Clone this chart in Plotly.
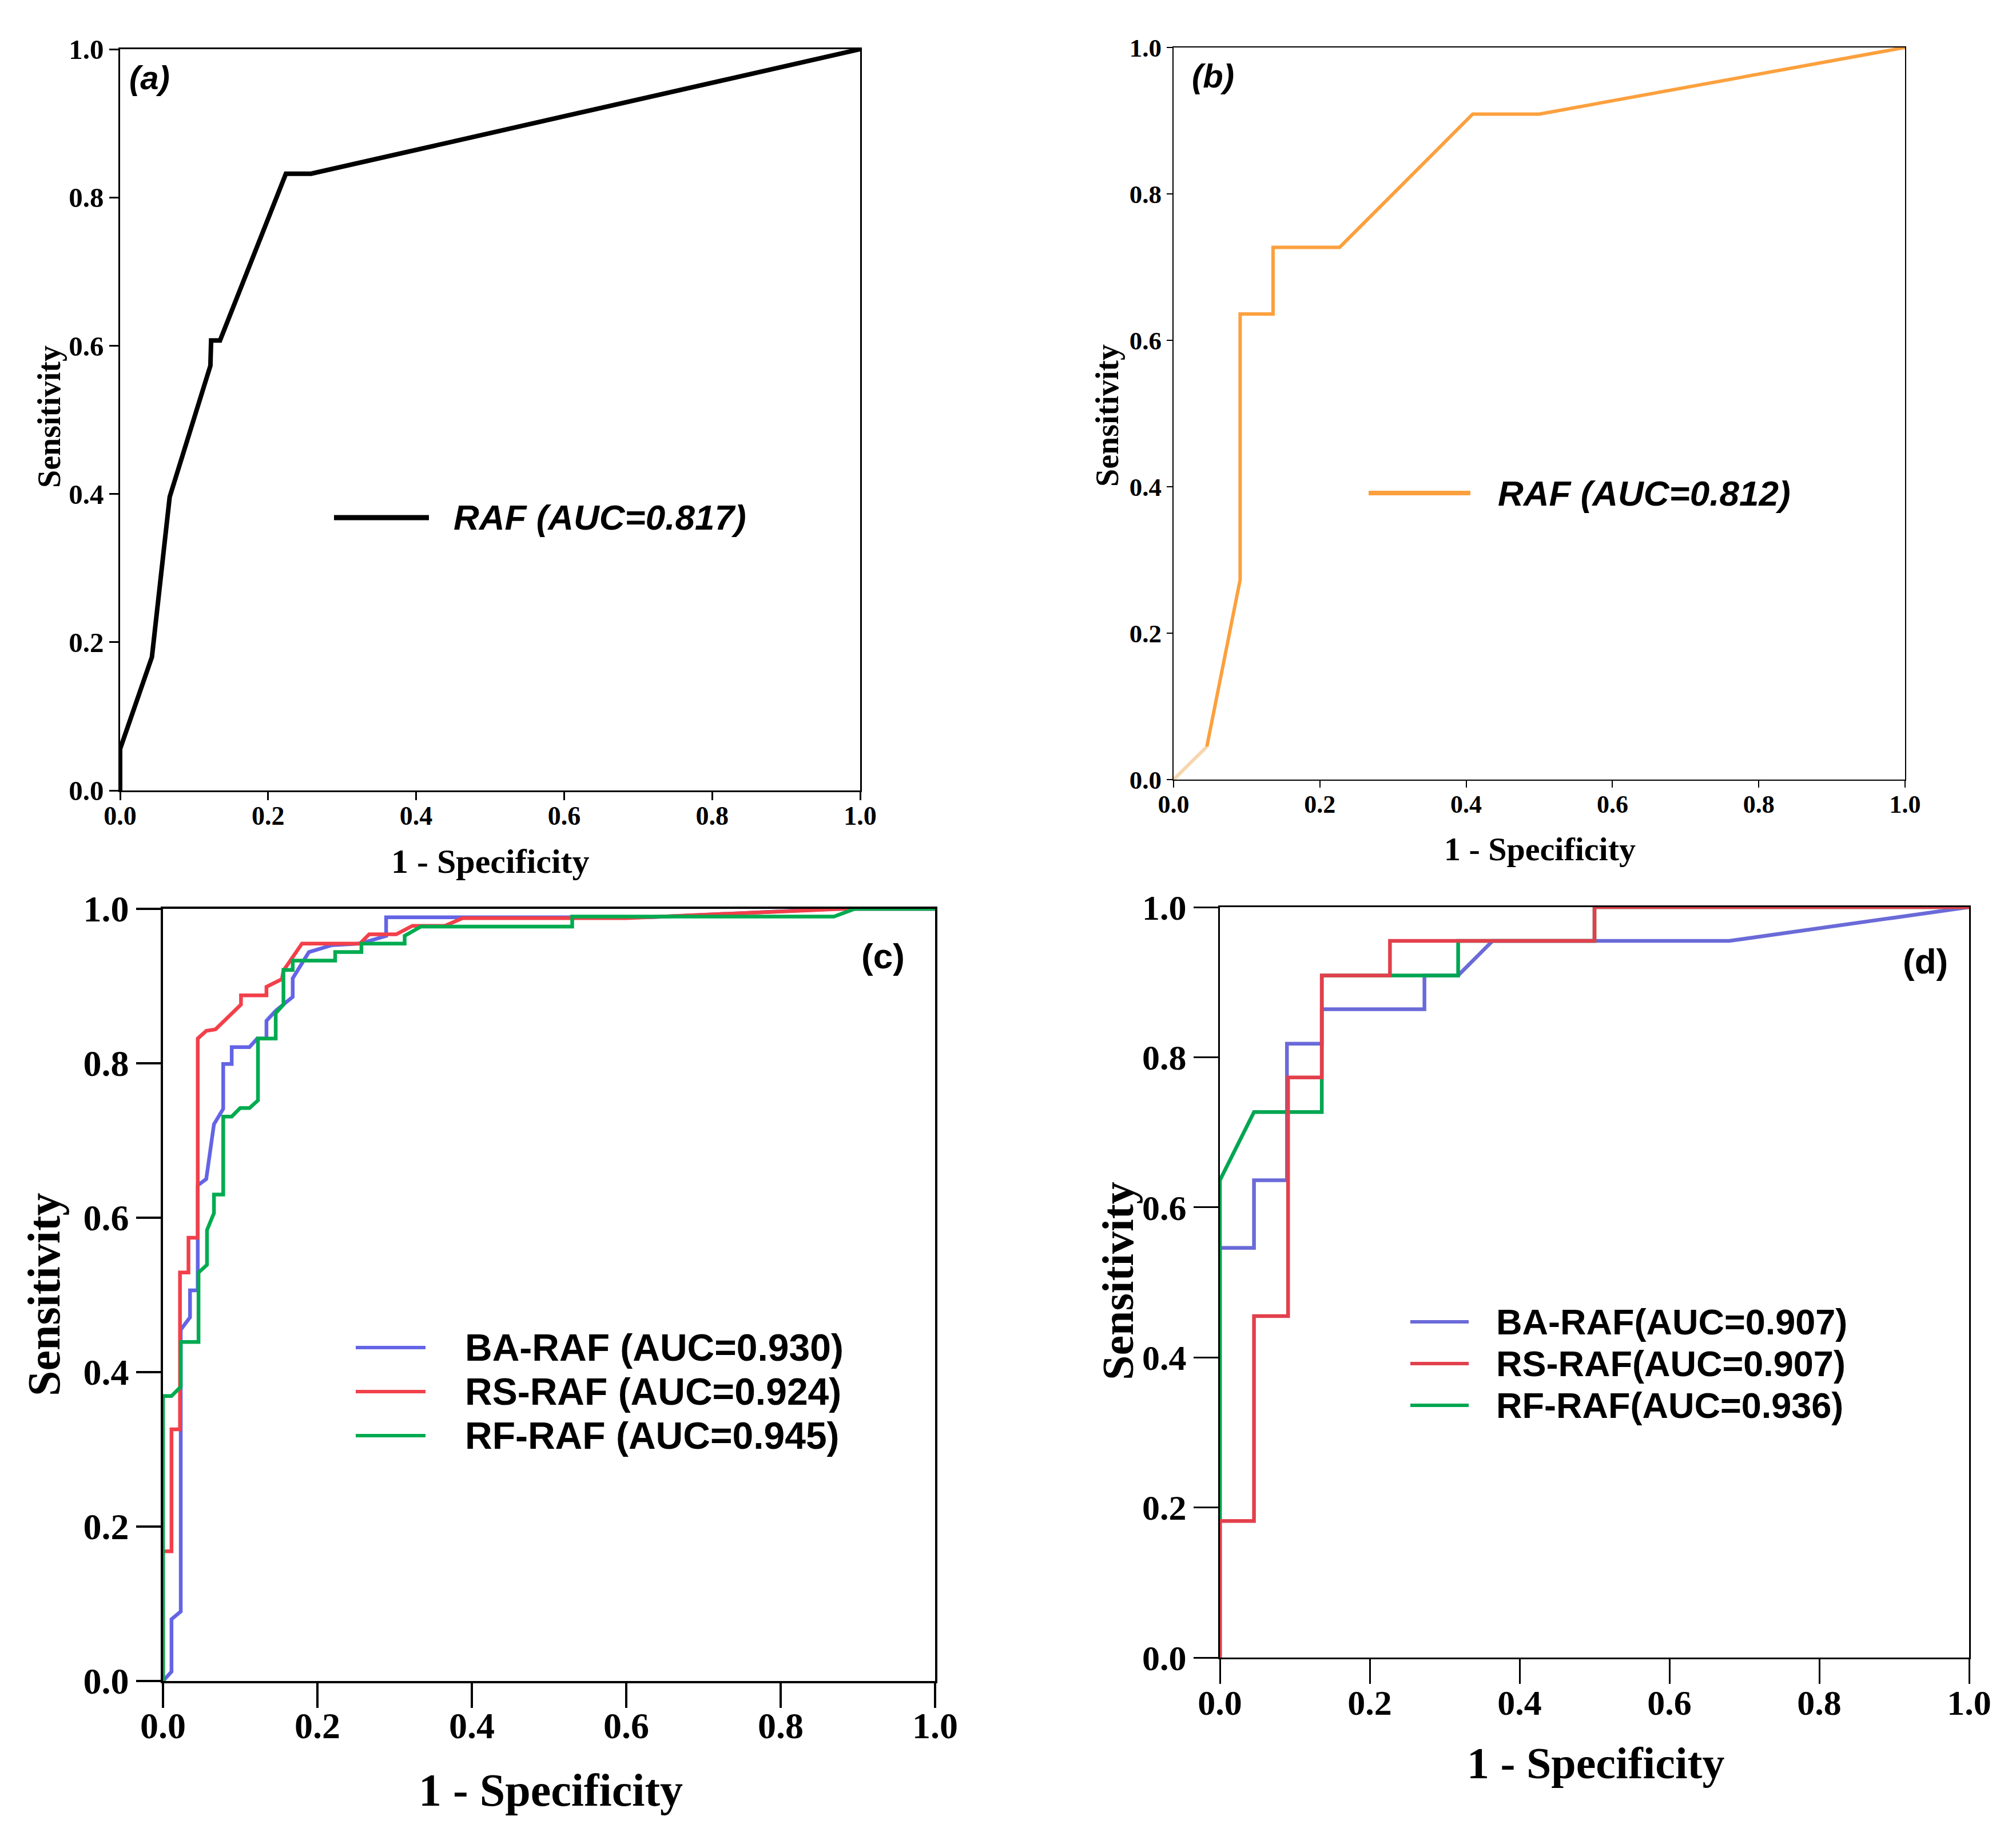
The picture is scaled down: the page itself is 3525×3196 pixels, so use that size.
import plotly.graph_objects as go

W, H = 3525, 3196

# ---------------------------------------------------------------------------
# ROC curve points  (x = 1 - specificity, y = sensitivity)
# ---------------------------------------------------------------------------
a_x = [0, 0, 0.043, 0.065, 0.067, 0.122, 0.123, 0.135, 0.224, 0.258, 1]
a_y = [0, 0.056, 0.18, 0.369, 0.396, 0.573, 0.607, 0.607, 0.832, 0.832, 1]

b_x = [0, 0.0455, 0.091, 0.091, 0.136, 0.136, 0.227, 0.409, 0.5, 1]
b_y = [0, 0.045, 0.273, 0.636, 0.636, 0.727, 0.727, 0.909, 0.909, 1]

c_ba_x = [0, 0.011, 0.011, 0.023, 0.023, 0.035, 0.035, 0.045, 0.045, 0.056,
          0.066, 0.078, 0.078, 0.089, 0.089, 0.112, 0.122, 0.134, 0.134, 0.146,
          0.168, 0.168, 0.189, 0.219, 0.255, 0.289, 0.289, 0.63, 0.87, 1]
c_ba_y = [0, 0.012, 0.08, 0.09, 0.455, 0.471, 0.506, 0.506, 0.642, 0.65,
          0.721, 0.741, 0.799, 0.799, 0.821, 0.821, 0.832, 0.832, 0.855, 0.868,
          0.886, 0.91, 0.944, 0.953, 0.955, 0.965, 0.989, 0.989, 1.0, 1]

c_rs_x = [0, 0, 0.011, 0.011, 0.022, 0.022, 0.033, 0.033, 0.045, 0.045,
          0.056, 0.068, 0.101, 0.101, 0.134, 0.134, 0.154, 0.156, 0.18, 0.255,
          0.267, 0.302, 0.323, 0.365, 0.388, 0.6, 0.88, 1]
c_rs_y = [0, 0.168, 0.168, 0.326, 0.326, 0.529, 0.529, 0.574, 0.574, 0.832,
          0.842, 0.844, 0.876, 0.888, 0.888, 0.899, 0.909, 0.92, 0.955, 0.955,
          0.967, 0.967, 0.978, 0.978, 0.988, 0.988, 1.0, 1]

c_rf_x = [0, 0, 0.011, 0.023, 0.023, 0.046, 0.046, 0.057, 0.057, 0.066,
          0.066, 0.078, 0.078, 0.089, 0.1, 0.112, 0.123, 0.123, 0.146, 0.146,
          0.156, 0.156, 0.168, 0.168, 0.223, 0.223, 0.257, 0.257, 0.313, 0.313,
          0.334, 0.53, 0.53, 0.869, 0.896, 1]
c_rf_y = [0, 0.369, 0.369, 0.381, 0.439, 0.439, 0.529, 0.539, 0.584, 0.606,
          0.63, 0.63, 0.731, 0.731, 0.742, 0.742, 0.752, 0.832, 0.832, 0.865,
          0.876, 0.921, 0.921, 0.933, 0.933, 0.944, 0.944, 0.955, 0.955, 0.965,
          0.977, 0.977, 0.99, 0.99, 1.0, 1]

d_ba_x = [0, 0, 0.0455, 0.0455, 0.0895, 0.0895, 0.136, 0.136, 0.273, 0.273,
          0.318, 0.364, 0.68, 1]
d_ba_y = [0, 0.546, 0.546, 0.636, 0.636, 0.818, 0.818, 0.864, 0.864, 0.909,
          0.909, 0.955, 0.955, 1]

d_rs_x = [0, 0, 0.0455, 0.0455, 0.091, 0.091, 0.136, 0.136, 0.227, 0.227,
          0.5, 0.5, 1]
d_rs_y = [0, 0.182, 0.182, 0.455, 0.455, 0.773, 0.773, 0.909, 0.909, 0.955,
          0.955, 1, 1]

d_rf_x = [0, 0, 0.0455, 0.136, 0.136, 0.318, 0.318, 0.5, 0.5, 1]
d_rf_y = [0, 0.636, 0.727, 0.727, 0.909, 0.909, 0.955, 0.955, 1, 1]

ticks = [0.0, 0.2, 0.4, 0.6, 0.8, 1.0]
tick_text = ["0.0", "0.2", "0.4", "0.6", "0.8", "1.0"]

c_names = ["BA-RAF (AUC=0.930)", "RS-RAF (AUC=0.924)", "RF-RAF (AUC=0.945)"]
d_names = ["BA-RAF(AUC=0.907)", "RS-RAF(AUC=0.907)", "RF-RAF(AUC=0.936)"]

BLUE, RED, GREEN = "#6464e6", "#f2404a", "#00ab50"
D_BLUE, D_RED, D_GREEN = "#6a6ad8", "#e2404c", "#00a651"
ORANGE, PALE_ORANGE = "#fca03e", "#f7d6ae"

SERIF = "Liberation Serif"
SANS = "Liberation Sans"


def px(x):
    return x / W


def py(y):
    return 1 - y / H


# plot areas in picture pixels: (left, right, top, bottom)
boxes = {
    "": (202, 1496, 78, 1374),
    "2": (2044, 3323, 75, 1355),
    "3": (277, 1627, 1581, 2931),
    "4": (2125, 3435, 1578, 2890),
}

fig = go.Figure()


def add_line(x, y, color, width, ax):
    fig.add_trace(go.Scatter(x=x, y=y, mode="lines", showlegend=False,
                             line=dict(color=color, width=width),
                             xaxis="x" + ax, yaxis="y" + ax,
                             hoverinfo="skip"))


add_line(a_x, a_y, "black", 8, "")
add_line(b_x[:2], b_y[:2], PALE_ORANGE, 6, "2")
add_line(b_x[1:], b_y[1:], ORANGE, 6, "2")
add_line(c_ba_x, c_ba_y, BLUE, 6.5, "3")
add_line(c_rs_x, c_rs_y, RED, 6.5, "3")
add_line(c_rf_x, c_rf_y, GREEN, 6.5, "3")
add_line(d_ba_x, d_ba_y, D_BLUE, 6.5, "4")
add_line(d_rf_x, d_rf_y, D_GREEN, 6.5, "4")
add_line(d_rs_x, d_rs_y, D_RED, 6.5, "4")

# axis styles per panel
styles = {
    "": dict(xfont=46, yfont=49, xlen=14, ylen=16, lw=2.5, xoff=-12),
    "2": dict(xfont=44, yfont=45, xlen=12, ylen=10, lw=2, xoff=-9),
    "3": dict(xfont=64, yfont=64, xlen=43, ylen=43, lw=3.5, xoff=-24),
    "4": dict(xfont=62, yfont=62, xlen=43, ylen=43, lw=3, xoff=-20),
}

layout = {}
for ax, (l, r, t, b) in boxes.items():
    st = styles[ax]
    common = dict(range=[0, 1], tickvals=ticks, ticktext=tick_text,
                  showgrid=False, zeroline=False, showline=True, mirror=True,
                  linecolor="black", linewidth=st["lw"], ticks="outside",
                  tickcolor="black", tickwidth=st["lw"], automargin=False,
                  fixedrange=True)
    layout["xaxis" + ax] = dict(common, domain=[px(l), px(r)],
                                anchor="y" + ax, ticklen=st["xlen"],
                                ticklabelstandoff=st["xoff"],
                                tickfont=dict(family=SERIF, size=st["xfont"],
                                              color="black", weight="bold"))
    layout["yaxis" + ax] = dict(common, domain=[py(b), py(t)],
                                anchor="x" + ax, ticklen=st["ylen"],
                                ticklabelstandoff=0,
                                tickfont=dict(family=SERIF, size=st["yfont"],
                                              color="black", weight="bold"))

fig.update_layout(**layout)

annotations = []
shapes = []


def text(x, y, s, size, family, xanchor="center", italic=False, angle=0):
    annotations.append(dict(
        x=px(x), y=py(y), xref="paper", yref="paper", text=s,
        showarrow=False, xanchor=xanchor, yanchor="middle", textangle=angle,
        font=dict(family=family, size=size, color="black", weight="bold",
                  style="italic" if italic else "normal")))


def legend_line(x0, x1, y, color, width):
    shapes.append(dict(type="line", xref="paper", yref="paper",
                       x0=px(x0), x1=px(x1), y0=py(y), y1=py(y),
                       line=dict(color=color, width=width)))


# axis titles
text(849, 1498, "1 - Specificity", 60, SERIF)
text(2684, 1477, "1 - Specificity", 58, SERIF)
text(955, 3122, "1 - Specificity", 80, SERIF)
text(2782, 3074, "1 - Specificity", 78, SERIF)
text(78, 721, "Sensitivity", 56, SERIF, angle=-90)
text(1928, 718, "Sensitivity", 56, SERIF, angle=-90)
text(69, 2255, "Sensitivity", 80, SERIF, angle=-90)
text(1946, 2232, "Sensitivity", 78, SERIF, angle=-90)

# panel labels
text(216, 127, "(a)", 58, SANS, xanchor="left", italic=True)
text(2074, 124, "(b)", 58, SANS, xanchor="left", italic=True)
text(1536, 1663, "(c)", 62, SANS)
text(3358, 1672, "(d)", 62, SANS)

# legends
legend_line(576, 742, 897, "black", 9)
text(783, 897, "RAF (AUC=0.817)", 62, SANS, xanchor="left", italic=True)

legend_line(2385, 2563, 854, ORANGE, 8)
text(2609, 854, "RAF (AUC=0.812)", 62, SANS, xanchor="left", italic=True)

for i, (name, col) in enumerate(zip(c_names, [BLUE, RED, GREEN])):
    yy = 2348 + i * 77
    legend_line(614, 736, yy, col, 6)
    text(803, yy, name, 66, SANS, xanchor="left")

for i, (name, col) in enumerate(zip(d_names, [D_BLUE, D_RED, D_GREEN])):
    yy = 2303 + i * 73
    legend_line(2458, 2560, yy, col, 6)
    text(2606, yy, name, 63, SANS, xanchor="left")

fig.update_layout(
    width=W, height=H,
    margin=dict(l=0, r=0, t=0, b=0),
    paper_bgcolor="white", plot_bgcolor="white",
    showlegend=False,
    annotations=annotations, shapes=shapes,
)

fig.write_html("out.html")
